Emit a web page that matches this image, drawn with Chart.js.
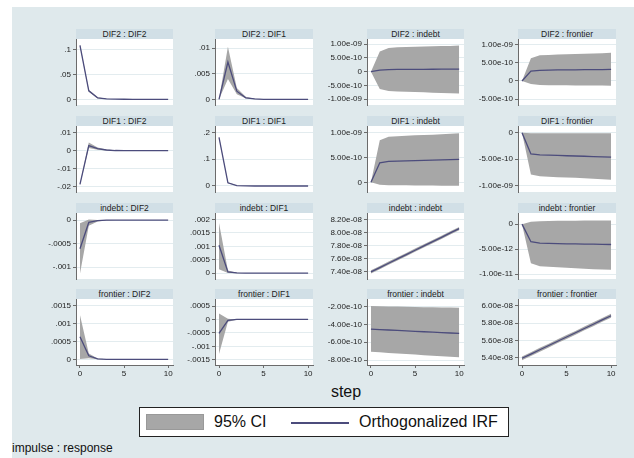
<!DOCTYPE html>
<html>
<head>
<meta charset="utf-8">
<script src="https://cdn.jsdelivr.net/npm/chart.js@4.4.0/dist/chart.umd.min.js"></script>
<style>
  html, body { margin: 0; padding: 0; background: #fff; }
  #page { position: relative; width: 634px; height: 458px; overflow: hidden; background: #fff; font-family: "Liberation Sans", Arial, sans-serif; }
  #bg { position: absolute; left: 12px; top: 7px; right: 0; bottom: 0; background: #dfe9ec; }
  .strip { position: absolute; height: 10px; line-height: 10px; background: #d1dfe6; color: #222; font-size: 8.5px; text-align: center; white-space: nowrap; }
  canvas { position: absolute; }
  .txt { position: absolute; color: #111; white-space: nowrap; }
  #legend { position: absolute; left: 139px; top: 407px; width: 368px; height: 28px; background: #fff; border: 1px solid #222; }
</style>
</head>
<body>
<div id="page">
  <div id="bg"></div>
</div>
<script>
// steps on the x axis
const steps = [0, 1, 2, 3, 4, 5, 6, 7, 8, 9, 10];
const xTicks = [0, 5, 10];

// impulse DIF2
const dif2_dif2_irf = [0.108, 0.017, 0.003, 0.0008, 0.0002, 0.0001, 0, 0, 0, 0, 0];
const dif2_dif2_lo  = [0.106, 0.015, 0.002, 0.0005, 0.0001, 0, 0, 0, 0, 0, 0];
const dif2_dif2_hi  = [0.110, 0.019, 0.004, 0.0011, 0.0003, 0.0001, 0, 0, 0, 0, 0];
const dif2_dif2_ticks = [0, 0.05, 0.1];

const dif2_dif1_irf = [0, 0.0073, 0.0016, 0.0003, 0.0001, 0, 0, 0, 0, 0, 0];
const dif2_dif1_lo  = [0, 0.0040, 0.0010, 0.0002, 0, 0, 0, 0, 0, 0, 0];
const dif2_dif1_hi  = [0, 0.0103, 0.0022, 0.0005, 0.0001, 0, 0, 0, 0, 0, 0];
const dif2_dif1_ticks = [0, 0.005, 0.01];

const dif2_indebt_irf = [0, 6e-11, 8e-11, 8.2e-11, 8.4e-11, 8.6e-11, 8.8e-11, 9e-11, 9.2e-11, 9.4e-11, 9.6e-11];
const dif2_indebt_lo  = [0, -6.3e-10, -7.0e-10, -7.2e-10, -7.3e-10, -7.4e-10, -7.5e-10, -7.6e-10, -7.7e-10, -7.8e-10, -7.9e-10];
const dif2_indebt_hi  = [0, 7.4e-10, 8.6e-10, 8.9e-10, 9.0e-10, 9.1e-10, 9.2e-10, 9.3e-10, 9.35e-10, 9.4e-10, 9.5e-10];
const dif2_indebt_ticks = [-1e-9, -5e-10, 0, 5e-10, 1e-9];

const dif2_frontier_irf = [0, 2.7e-10, 2.9e-10, 2.95e-10, 3.0e-10, 3.02e-10, 3.05e-10, 3.08e-10, 3.1e-10, 3.12e-10, 3.15e-10];
const dif2_frontier_lo  = [0, -8e-11, -1.1e-10, -1.15e-10, -1.2e-10, -1.2e-10, -1.22e-10, -1.24e-10, -1.25e-10, -1.27e-10, -1.3e-10];
const dif2_frontier_hi  = [0, 6.2e-10, 7.0e-10, 7.1e-10, 7.2e-10, 7.3e-10, 7.35e-10, 7.4e-10, 7.5e-10, 7.55e-10, 7.7e-10];
const dif2_frontier_ticks = [-5e-10, 0, 5e-10, 1e-9];

// impulse DIF1
const dif1_dif2_irf = [-0.0187, 0.0028, 0.0011, 0.0004, 0.0001, 0, 0, 0, 0, 0, 0];
const dif1_dif2_lo  = [-0.0189, 0.0015, 0.0005, 0.0001, 0, 0, 0, 0, 0, 0, 0];
const dif1_dif2_hi  = [-0.0185, 0.0045, 0.0018, 0.0007, 0.0002, 0.0001, 0, 0, 0, 0, 0];
const dif1_dif2_ticks = [-0.02, -0.01, 0, 0.01];

const dif1_dif1_irf = [0.181, 0.012, 0.0015, 0.0003, 0, 0, 0, 0, 0, 0, 0];
const dif1_dif1_lo  = [0.179, 0.010, 0.001, 0.0001, 0, 0, 0, 0, 0, 0, 0];
const dif1_dif1_hi  = [0.183, 0.014, 0.002, 0.0005, 0.0001, 0, 0, 0, 0, 0, 0];
const dif1_dif1_ticks = [0, 0.1, 0.2];

const dif1_indebt_irf = [0, 3.9e-10, 4.2e-10, 4.25e-10, 4.3e-10, 4.35e-10, 4.4e-10, 4.45e-10, 4.5e-10, 4.55e-10, 4.6e-10];
const dif1_indebt_lo  = [0, -5e-11, -6e-11, -6e-11, -6e-11, -6.5e-11, -6.5e-11, -6.5e-11, -7e-11, -7e-11, -7e-11];
const dif1_indebt_hi  = [0, 8.4e-10, 9.1e-10, 9.2e-10, 9.3e-10, 9.4e-10, 9.45e-10, 9.5e-10, 9.6e-10, 9.7e-10, 9.8e-10];
const dif1_indebt_ticks = [0, 5e-10, 1e-9];

const dif1_frontier_irf = [0, -4.0e-10, -4.2e-10, -4.25e-10, -4.3e-10, -4.35e-10, -4.4e-10, -4.45e-10, -4.5e-10, -4.55e-10, -4.6e-10];
const dif1_frontier_lo  = [0, -7.9e-10, -8.2e-10, -8.3e-10, -8.4e-10, -8.45e-10, -8.5e-10, -8.6e-10, -8.7e-10, -8.8e-10, -8.9e-10];
const dif1_frontier_hi  = [0, -1e-11, -1e-11, -1e-11, -1e-11, -1.1e-11, -1.1e-11, -1.2e-11, -1.2e-11, -1.3e-11, -1.3e-11];
const dif1_frontier_ticks = [-1e-9, -5e-10, 0];

// impulse indebt
const indebt_dif2_irf = [-0.00061, -0.00005, -0.00001, 0, 0, 0, 0, 0, 0, 0, 0];
const indebt_dif2_lo  = [-0.00114, -0.00012, -0.00003, -0.00001, 0, 0, 0, 0, 0, 0, 0];
const indebt_dif2_hi  = [-0.00007, 0.00001, 0, 0, 0, 0, 0, 0, 0, 0, 0];
const indebt_dif2_ticks = [-0.001, -0.0005, 0];

const indebt_dif1_irf = [0.00104, 0.00005, 0.00001, 0, 0, 0, 0, 0, 0, 0, 0];
const indebt_dif1_lo  = [0.00015, 0.00001, 0, 0, 0, 0, 0, 0, 0, 0, 0];
const indebt_dif1_hi  = [0.00187, 0.0001, 0.00002, 0, 0, 0, 0, 0, 0, 0, 0];
const indebt_dif1_ticks = [0, 0.0005, 0.001, 0.0015, 0.002];

const indebt_indebt_irf = [7.395e-8, 7.461e-8, 7.528e-8, 7.594e-8, 7.660e-8, 7.727e-8, 7.793e-8, 7.859e-8, 7.925e-8, 7.992e-8, 8.058e-8];
const indebt_indebt_lo  = [7.37e-8, 7.436e-8, 7.503e-8, 7.569e-8, 7.635e-8, 7.702e-8, 7.768e-8, 7.834e-8, 7.9e-8, 7.967e-8, 8.033e-8];
const indebt_indebt_hi  = [7.42e-8, 7.486e-8, 7.553e-8, 7.619e-8, 7.685e-8, 7.752e-8, 7.818e-8, 7.884e-8, 7.95e-8, 8.017e-8, 8.083e-8];
const indebt_indebt_ticks = [7.4e-8, 7.6e-8, 7.8e-8, 8e-8, 8.2e-8];

const indebt_frontier_irf = [0, -3.5e-12, -3.8e-12, -3.85e-12, -3.9e-12, -3.92e-12, -3.95e-12, -3.98e-12, -4.0e-12, -4.03e-12, -4.06e-12];
const indebt_frontier_lo  = [0, -7.8e-12, -8.4e-12, -8.5e-12, -8.6e-12, -8.7e-12, -8.8e-12, -8.9e-12, -9.0e-12, -9.05e-12, -9.1e-12];
const indebt_frontier_hi  = [0, 5e-13, 6e-13, 6.5e-13, 6.8e-13, 7e-13, 7e-13, 7.2e-13, 7.3e-13, 7.4e-13, 7.5e-13];
const indebt_frontier_ticks = [-1e-11, -5e-12, 0];

// impulse frontier
const frontier_dif2_irf = [0.00063, 0.0001, 0.00001, 0, 0, 0, 0, 0, 0, 0, 0];
const frontier_dif2_lo  = [0.00001, 0.00003, 0, 0, 0, 0, 0, 0, 0, 0, 0];
const frontier_dif2_hi  = [0.00124, 0.00016, 0.00002, 0, 0, 0, 0, 0, 0, 0, 0];
const frontier_dif2_ticks = [0, 0.0005, 0.001, 0.0015];

const frontier_dif1_irf = [-0.00052, -0.00003, 0, 0, 0, 0, 0, 0, 0, 0, 0];
const frontier_dif1_lo  = [-0.00128, -0.00008, -0.00001, 0, 0, 0, 0, 0, 0, 0, 0];
const frontier_dif1_hi  = [0.00022, 0.00003, 0, 0, 0, 0, 0, 0, 0, 0, 0];
const frontier_dif1_ticks = [-0.0015, -0.001, -0.0005, 0, 0.0005];

const frontier_indebt_irf = [-4.52e-10, -4.57e-10, -4.62e-10, -4.67e-10, -4.72e-10, -4.77e-10, -4.82e-10, -4.87e-10, -4.91e-10, -4.96e-10, -5.01e-10];
const frontier_indebt_lo  = [-7.07e-10, -7.13e-10, -7.2e-10, -7.26e-10, -7.33e-10, -7.39e-10, -7.45e-10, -7.51e-10, -7.57e-10, -7.64e-10, -7.7e-10];
const frontier_indebt_hi  = [-1.93e-10, -1.95e-10, -1.97e-10, -1.99e-10, -2.01e-10, -2.03e-10, -2.05e-10, -2.06e-10, -2.08e-10, -2.1e-10, -2.11e-10];
const frontier_indebt_ticks = [-8e-10, -6e-10, -4e-10, -2e-10];

const frontier_frontier_irf = [5.393e-8, 5.442e-8, 5.492e-8, 5.541e-8, 5.591e-8, 5.640e-8, 5.689e-8, 5.739e-8, 5.788e-8, 5.838e-8, 5.887e-8];
const frontier_frontier_lo  = [5.371e-8, 5.42e-8, 5.47e-8, 5.519e-8, 5.569e-8, 5.618e-8, 5.667e-8, 5.717e-8, 5.766e-8, 5.816e-8, 5.865e-8];
const frontier_frontier_hi  = [5.415e-8, 5.464e-8, 5.514e-8, 5.563e-8, 5.613e-8, 5.662e-8, 5.711e-8, 5.761e-8, 5.81e-8, 5.86e-8, 5.909e-8];
const frontier_frontier_ticks = [5.4e-8, 5.6e-8, 5.8e-8, 6e-8];

// row by row, impulse : response
const panels = [
  { t: "DIF2 : DIF2", irf: dif2_dif2_irf, lo: dif2_dif2_lo, hi: dif2_dif2_hi, ticks: dif2_dif2_ticks, min: -0.0114, max: 0.1206, exp: false },
  { t: "DIF2 : DIF1", irf: dif2_dif1_irf, lo: dif2_dif1_lo, hi: dif2_dif1_hi, ticks: dif2_dif1_ticks, min: -0.0011, max: 0.0118, exp: false },
  { t: "DIF2 : indebt", irf: dif2_indebt_irf, lo: dif2_indebt_lo, hi: dif2_indebt_hi, ticks: dif2_indebt_ticks, min: -1.21e-9, max: 1.19e-9, exp: true },
  { t: "DIF2 : frontier", irf: dif2_frontier_irf, lo: dif2_frontier_lo, hi: dif2_frontier_hi, ticks: dif2_frontier_ticks, min: -6.56e-10, max: 1.145e-9, exp: true },
  { t: "DIF1 : DIF2", irf: dif1_dif2_irf, lo: dif1_dif2_lo, hi: dif1_dif2_hi, ticks: dif1_dif2_ticks, min: -0.0229, max: 0.0137, exp: false },
  { t: "DIF1 : DIF1", irf: dif1_dif1_irf, lo: dif1_dif1_lo, hi: dif1_dif1_hi, ticks: dif1_dif1_ticks, min: -0.0224, max: 0.2235, exp: false },
  { t: "DIF1 : indebt", irf: dif1_indebt_irf, lo: dif1_indebt_lo, hi: dif1_indebt_hi, ticks: dif1_indebt_ticks, min: -1.94e-10, max: 1.126e-9, exp: true },
  { t: "DIF1 : frontier", irf: dif1_frontier_irf, lo: dif1_frontier_lo, hi: dif1_frontier_hi, ticks: dif1_frontier_ticks, min: -1.119e-9, max: 1.26e-10, exp: true },
  { t: "indebt : DIF2", irf: indebt_dif2_irf, lo: indebt_dif2_lo, hi: indebt_dif2_hi, ticks: indebt_dif2_ticks, min: -0.00125, max: 0.00015, exp: false },
  { t: "indebt : DIF1", irf: indebt_dif1_irf, lo: indebt_dif1_lo, hi: indebt_dif1_hi, ticks: indebt_dif1_ticks, min: -0.000215, max: 0.00224, exp: false },
  { t: "indebt : indebt", irf: indebt_indebt_irf, lo: indebt_indebt_lo, hi: indebt_indebt_hi, ticks: indebt_indebt_ticks, min: 7.286e-8, max: 8.298e-8, exp: true },
  { t: "indebt : frontier", irf: indebt_frontier_irf, lo: indebt_frontier_lo, hi: indebt_frontier_hi, ticks: indebt_frontier_ticks, min: -1.095e-11, max: 2.23e-12, exp: true },
  { t: "frontier : DIF2", irf: frontier_dif2_irf, lo: frontier_dif2_lo, hi: frontier_dif2_hi, ticks: frontier_dif2_ticks, min: -0.000159, max: 0.00169, exp: false },
  { t: "frontier : DIF1", irf: frontier_dif1_irf, lo: frontier_dif1_lo, hi: frontier_dif1_hi, ticks: frontier_dif1_ticks, min: -0.00169, max: 0.00076, exp: false },
  { t: "frontier : indebt", irf: frontier_indebt_irf, lo: frontier_indebt_lo, hi: frontier_indebt_hi, ticks: frontier_indebt_ticks, min: -8.56e-10, max: -1.134e-10, exp: true },
  { t: "frontier : frontier", irf: frontier_frontier_irf, lo: frontier_frontier_lo, hi: frontier_frontier_hi, ticks: frontier_frontier_ticks, min: 5.315e-8, max: 6.081e-8, exp: true },
];

// grid geometry
const colLeft = [76, 215, 367, 518];
const colWidth = [97, 98, 97, 98];
const rowTop = [39, 126, 213, 299];
const plotH = 66;
const AXW = 60, PADT = 8, PADR = 6, XAXH = 16;

const BAND = "#a7a7a7";
const IRF = "#4c4c7c";
const AXIS = "#6b6b6b";

// stata style tick labels: .05, -.0005, 1.00e-09
function fmt(v, exp) {
  if (v === 0) return "0";
  if (exp) return v.toExponential(2).replace(/e([+-])(\d)$/, "e$10$2");
  return String(v).replace(/^(-?)0\./, "$1.");
}

const plotBg = {
  id: "plotBg",
  beforeDraw(chart) {
    const a = chart.chartArea, c = chart.ctx;
    c.save();
    c.fillStyle = "#fff";
    c.fillRect(a.left, a.top, a.right - a.left, a.bottom - a.top);
    c.restore();
  }
};

const page = document.getElementById("page");

function pts(arr) { return steps.map((s, i) => ({ x: s, y: arr[i] })); }

panels.forEach((p, i) => {
  const r = Math.floor(i / 4), c = i % 4;
  const bottom = r === 3;

  const strip = document.createElement("div");
  strip.className = "strip";
  strip.style.left = colLeft[c] + "px";
  strip.style.top = (rowTop[r] - 10) + "px";
  strip.style.width = colWidth[c] + "px";
  strip.textContent = p.t;
  page.appendChild(strip);

  const cv = document.createElement("canvas");
  const w = AXW + colWidth[c] + PADR;
  const h = PADT + plotH + (bottom ? XAXH : PADT);
  cv.width = w; cv.height = h;
  cv.style.left = (colLeft[c] - AXW) + "px";
  cv.style.top = (rowTop[r] - PADT) + "px";
  cv.style.width = w + "px"; cv.style.height = h + "px";
  page.appendChild(cv);

  new Chart(cv, {
    type: "line",
    data: {
      datasets: [
        { data: pts(p.irf), borderColor: IRF, borderWidth: 1.3, pointRadius: 0, fill: false, order: 0, tension: 0 },
        { data: pts(p.lo), borderColor: BAND, borderWidth: 0, pointRadius: 0, fill: false, order: 1 },
        { data: pts(p.hi), borderColor: BAND, borderWidth: 0, pointRadius: 0, fill: "-1", backgroundColor: BAND, order: 1 },
      ],
    },
    options: {
      responsive: false,
      animation: false,
      devicePixelRatio: 1,
      layout: { padding: { left: 0, top: PADT, right: PADR, bottom: bottom ? 0 : PADT } },
      plugins: { legend: { display: false }, tooltip: { enabled: false } },
      scales: {
        x: {
          type: "linear",
          min: -0.45,
          max: 10.55,
          display: bottom,
          afterBuildTicks: s => { s.ticks = xTicks.map(v => ({ value: v })); },
          afterFit: s => { s.height = bottom ? XAXH : 0; },
          grid: { drawOnChartArea: false, tickLength: 3, tickColor: AXIS },
          border: { display: true, color: AXIS, width: 1 },
          ticks: { padding: 1, maxRotation: 0, autoSkip: false, color: "#222", font: { family: "Liberation Sans", size: 8 }, callback: v => String(v) },
        },
        y: {
          type: "linear",
          min: p.min,
          max: p.max,
          afterBuildTicks: s => { s.ticks = p.ticks.map(v => ({ value: v })); },
          afterFit: s => { s.width = AXW; },
          grid: { color: "#e3ecef", lineWidth: 1, tickLength: 3, tickColor: AXIS },
          border: { display: true, color: AXIS, width: 1 },
          ticks: { padding: 2, autoSkip: false, color: "#222", font: { family: "Liberation Sans", size: 8 }, callback: v => fmt(v, p.exp) },
        },
      },
    },
    plugins: [plotBg],
  });
});

// shared x title, legend and note
function addText(txt, left, top, size) {
  const d = document.createElement("div");
  d.className = "txt";
  d.style.left = left + "px";
  d.style.top = top + "px";
  d.style.fontSize = size + "px";
  d.textContent = txt;
  page.appendChild(d);
  return d;
}
const stepLbl = addText("step", 23, 383, 16);
stepLbl.style.width = "646px";
stepLbl.style.textAlign = "center";

const lg = document.createElement("div");
lg.id = "legend";
lg.innerHTML =
  '<div style="position:absolute;left:6px;top:6px;width:58px;height:16px;background:' + BAND + ';border:1px solid #999;box-sizing:border-box"></div>' +
  '<div style="position:absolute;left:74px;top:5px;font-size:16px;color:#111">95% CI</div>' +
  '<div style="position:absolute;left:151px;top:14px;width:58px;height:2px;background:' + IRF + '"></div>' +
  '<div style="position:absolute;left:219px;top:5px;font-size:16px;color:#111">Orthogonalized IRF</div>';
page.appendChild(lg);

addText("impulse : response", 12, 441, 12);
</script>
</body>
</html>
